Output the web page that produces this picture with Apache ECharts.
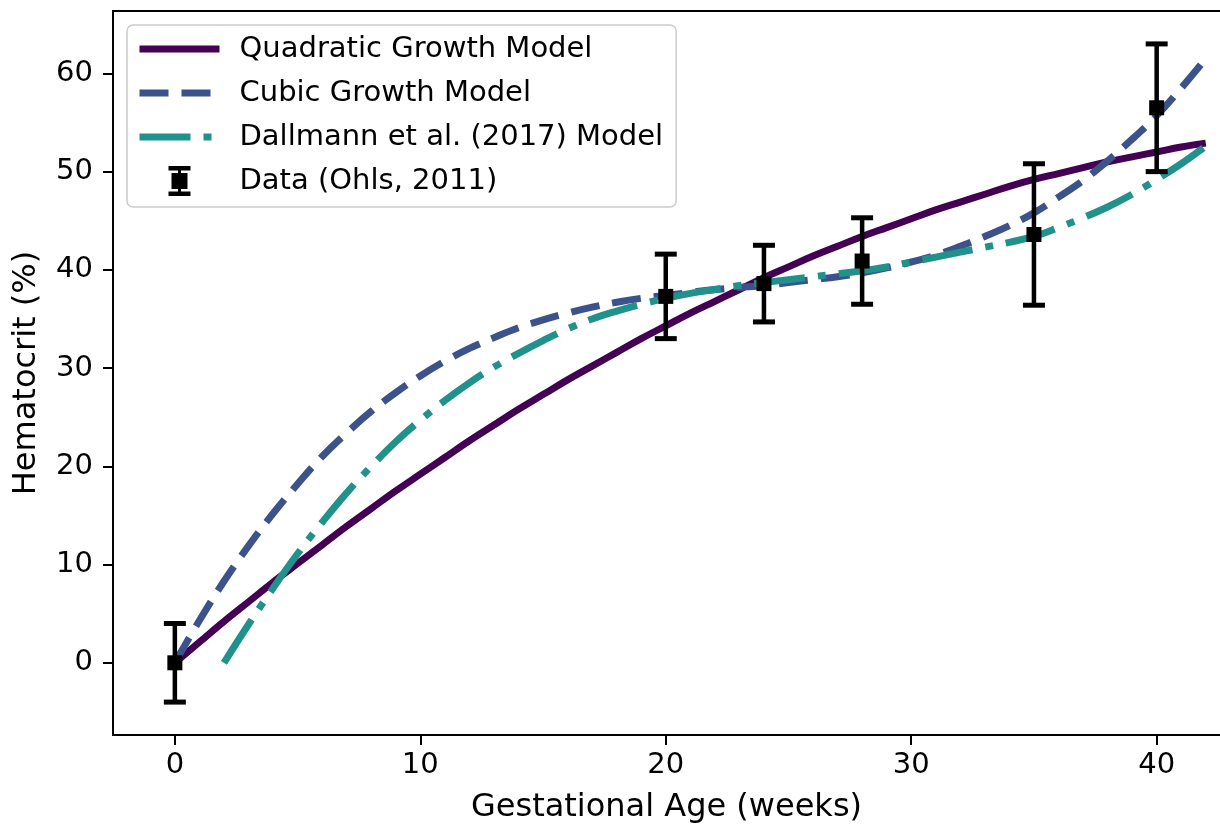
<!DOCTYPE html>
<html>
<head>
<meta charset="utf-8">
<title>Hematocrit vs Gestational Age</title>
<script src="https://cdn.jsdelivr.net/npm/echarts@6/dist/echarts.min.js"></script>
<style>
  html, body { margin: 0; padding: 0; background: #ffffff; overflow: hidden; }
  #chart { width: 1220px; height: 824px; }
</style>
</head>
<body>
<div id="chart"></div>
<script>
// Model curves sampled weekly (weeks of gestation -> hematocrit %)
const modelWeeks = [0, 1, 2, 3, 4, 5, 6, 7, 8, 9, 10, 11, 12, 13, 14, 15, 16, 17, 18, 19, 20,
  21, 22, 23, 24, 25, 26, 27, 28, 29, 30, 31, 32, 33, 34, 35, 36, 37, 38, 39, 40, 41, 42];
const quadraticModel = [0.0, 2.1, 4.2, 6.2, 8.2, 10.1, 12.0, 13.9, 15.7, 17.5, 19.2,
  20.9, 22.6, 24.2, 25.8, 27.3, 28.8, 30.2, 31.6, 33.0, 34.3,
  35.6, 36.8, 38.0, 39.2, 40.3, 41.4, 42.4, 43.4, 44.3, 45.2,
  46.1, 46.9, 47.7, 48.5, 49.2, 49.8, 50.4, 51.0, 51.5, 52.0, 52.5, 52.9];
const cubicModel = [0.0, 4.3, 8.3, 11.9, 15.2, 18.2, 21.0, 23.4, 25.6, 27.5, 29.2,
  30.7, 32.0, 33.1, 34.1, 34.9, 35.6, 36.2, 36.7, 37.1, 37.4,
  37.7, 38.0, 38.2, 38.4, 38.7, 39.0, 39.3, 39.7, 40.2, 40.8,
  41.5, 42.4, 43.4, 44.5, 45.8, 47.4, 49.1, 51.1, 53.3, 55.7, 58.5, 61.5];
const dallmannWeeks = [2, 3, 4, 5, 6, 7, 8, 9, 10, 11, 12, 13, 14, 15, 16, 17, 18, 19, 20,
  21, 22, 23, 24, 25, 26, 27, 28, 29, 30, 31, 32, 33, 34, 35, 36, 37, 38, 39, 40, 41, 42];
const dallmannModel = [0.0, 3.9, 7.6, 11.1, 14.3, 17.3, 20.0, 22.5, 24.7,
  26.7, 28.5, 30.1, 31.5, 32.8, 34.0, 35.0, 35.8, 36.5, 37.1,
  37.6, 38.0, 38.4, 38.7, 39.0, 39.3, 39.6, 39.9, 40.3, 40.8,
  41.3, 41.8, 42.3, 42.8, 43.4, 44.3, 45.3, 46.4, 47.7, 49.2, 50.8, 52.6];

// Observations with symmetric error bars
const dataWeeks = [0, 20, 24, 28, 35, 40];
const dataHct = [0.0, 37.3, 38.6, 40.9, 43.6, 56.5];
const dataErr = [4.0, 4.3, 3.9, 4.4, 7.2, 6.5];

// Axis tick labels
const xTicks = [0, 10, 20, 30, 40];
const yTicks = [0, 10, 20, 30, 40, 50, 60];

const seriesNames = ['Quadratic Growth Model', 'Cubic Growth Model',
  'Dallmann et al. (2017) Model', 'Data (Ohls, 2011)'];

const FONT = 'DejaVu Sans';
const pairs = (xs, ys) => xs.map((x, i) => [x, ys[i]]);

const chart = echarts.init(document.getElementById('chart'), null, { renderer: 'canvas' });

const tickFont = { fontFamily: FONT, fontSize: 29, color: '#000000' };
const axisLineStyle = { color: '#000000', width: 2 };

const option = {
  animation: false,
  backgroundColor: '#ffffff',
  grid: { left: 113, right: 0, top: 11, bottom: 89, containLabel: false, outerBoundsMode: 'none' },
  legend: {
    orient: 'vertical',
    left: 127,
    top: 25,
    padding: [9, 13, 11, 9],
    itemWidth: 80,
    itemHeight: 30,
    itemGap: 14,
    symbolKeepAspect: true,
    selectedMode: false,
    backgroundColor: 'rgba(255,255,255,0.8)',
    borderColor: '#cccccc',
    borderWidth: 1.5,
    borderRadius: 6,
    lineStyle: { width: 7, cap: 'butt' },
    textStyle: { fontFamily: FONT, fontSize: 29, color: '#000000', lineHeight: 30, padding: [0, 0, 0, 15] },
    data: [
      { name: seriesNames[0], itemStyle: { opacity: 0 } },
      { name: seriesNames[1], itemStyle: { opacity: 0 } },
      { name: seriesNames[2], itemStyle: { opacity: 0 } },
      {
        name: seriesNames[3],
        icon: 'path://M0,0H22V4.5H12.5V7H19V23H12.5V25.5H22V30H0V25.5H9.5V23H3V7H9.5V4.5H0Z',
        itemStyle: { color: '#000000', opacity: 1 }
      }
    ]
  },
  xAxis: [
    {
      type: 'value',
      position: 'bottom',
      min: -2.52,
      max: 42.58,
      axisLine: { show: true, onZero: false, lineStyle: axisLineStyle },
      axisTick: { show: true, length: 10, lineStyle: axisLineStyle, customValues: xTicks },
      axisLabel: Object.assign({ margin: 16, customValues: xTicks }, tickFont),
      splitLine: { show: false },
      name: 'Gestational Age (weeks)',
      nameLocation: 'middle',
      nameGap: 57,
      nameTextStyle: { fontFamily: FONT, fontSize: 32, color: '#000000' }
    },
    {
      type: 'value',
      position: 'top',
      min: -2.52,
      max: 42.58,
      axisLine: { show: true, onZero: false, lineStyle: axisLineStyle },
      axisTick: { show: false },
      axisLabel: { show: false },
      splitLine: { show: false }
    }
  ],
  yAxis: {
    type: 'value',
    min: -7.35,
    max: 66.35,
    axisLine: { show: true, onZero: false, lineStyle: axisLineStyle },
    axisTick: { show: true, length: 10, lineStyle: axisLineStyle, customValues: yTicks },
    axisLabel: Object.assign({ margin: 20, customValues: yTicks }, tickFont),
    splitLine: { show: false },
    name: 'Hematocrit (%)',
    nameLocation: 'middle',
    nameGap: 70,
    nameRotate: 90,
    nameTextStyle: { fontFamily: FONT, fontSize: 32, color: '#000000' }
  },
  series: [
    {
      name: seriesNames[0],
      type: 'line',
      data: pairs(modelWeeks, quadraticModel),
      symbol: 'none',
      showSymbol: false,
      smooth: 0.4,
      z: 2,
      lineStyle: { color: '#440154', width: 7, type: 'solid', cap: 'butt', join: 'round' },
      itemStyle: { color: '#440154' }
    },
    {
      name: seriesNames[1],
      type: 'line',
      data: pairs(modelWeeks, cubicModel),
      symbol: 'none',
      showSymbol: false,
      smooth: 0.4,
      z: 3,
      lineStyle: { color: '#3b528b', width: 7, type: [29, 13], cap: 'butt', join: 'round' },
      itemStyle: { color: '#3b528b' }
    },
    {
      name: seriesNames[2],
      type: 'line',
      data: pairs(dallmannWeeks, dallmannModel),
      symbol: 'none',
      showSymbol: false,
      smooth: 0.4,
      z: 4,
      lineStyle: { color: '#21918c', width: 7, type: [51, 13, 8, 13], cap: 'butt', join: 'round' },
      itemStyle: { color: '#21918c' }
    },
    {
      name: seriesNames[3],
      type: 'custom',
      z: 5,
      itemStyle: { color: '#000000' },
      data: dataWeeks.map((w, i) => [w, dataHct[i], dataErr[i]]),
      encode: { x: 0, y: 1 },
      renderItem: function (params, api) {
        const x = api.value(0);
        const y = api.value(1);
        const e = api.value(2);
        const c = api.coord([x, y]);
        const hi = api.coord([x, y + e]);
        const lo = api.coord([x, y - e]);
        const cap = 11;
        const ink = '#000000';
        return {
          type: 'group',
          children: [
            { type: 'line', shape: { x1: c[0], y1: hi[1], x2: c[0], y2: lo[1] }, style: { stroke: ink, lineWidth: 4.5 } },
            { type: 'line', shape: { x1: c[0] - cap, y1: hi[1], x2: c[0] + cap, y2: hi[1] }, style: { stroke: ink, lineWidth: 5 } },
            { type: 'line', shape: { x1: c[0] - cap, y1: lo[1], x2: c[0] + cap, y2: lo[1] }, style: { stroke: ink, lineWidth: 5 } },
            { type: 'rect', shape: { x: c[0] - 7.5, y: c[1] - 7.5, width: 15, height: 15 }, style: { fill: ink } }
          ]
        };
      }
    }
  ]
};

chart.setOption(option);
</script>
</body>
</html>
